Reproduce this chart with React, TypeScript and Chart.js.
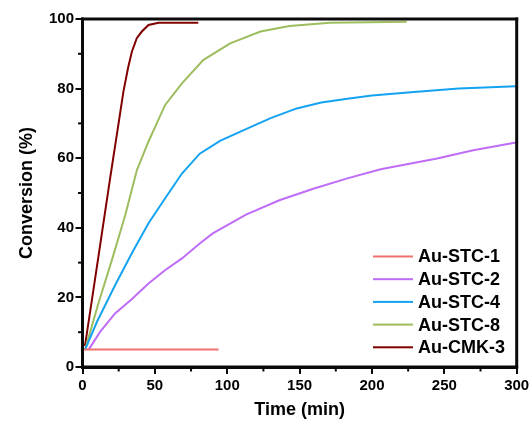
import React, { useEffect, useRef } from 'react';
import { Chart, registerables } from 'chart.js';
Chart.register(...registerables);

const seriesNames = ['Au-STC-1', 'Au-STC-2', 'Au-STC-4', 'Au-STC-8', 'Au-CMK-3'];
const seriesColors = ['#f0716d', '#bf6df7', '#14a3f0', '#9dbd5e', '#800000'];

const stc1X = [0, 94];
const stc1Y = [5, 5];

const stc2X = [4.3, 12, 22.5, 34, 45.6, 57, 68.7, 81, 90, 113, 136, 160, 183, 206, 245, 270, 299.5];
const stc2Y = [5, 10, 15.4, 19.5, 24, 27.8, 31.2, 35.5, 38.4, 43.8, 47.9, 51.3, 54.2, 56.8, 59.9, 62.3, 64.5];

const stc4X = [1.8, 10, 22.5, 34, 45.6, 57, 68.7, 81, 95, 111, 130, 148, 165, 183, 200, 229, 260, 299.5];
const stc4Y = [5, 13, 23.5, 32.6, 41.3, 48.4, 55.6, 61.3, 65, 68, 71.5, 74.3, 76, 77.1, 78, 79, 80, 80.7];

const stc8X = [1.8, 11, 20.3, 29.5, 37.6, 45.6, 57.1, 68.7, 83.4, 102, 123, 143, 171, 224];
const stc8Y = [5, 18.3, 30.7, 43.6, 56.6, 64.8, 75.3, 81.5, 88.2, 93, 96.4, 98, 98.9, 99.2];

const cmkX = [0, 0, 1.8, 11, 19.1, 23.7, 28.3, 31.5, 34.1, 37.5, 41, 45.6, 52.6, 80];
const cmkY = [0, 6.3, 6.3, 31.7, 54.3, 66.7, 79.2, 86, 90.6, 94.5, 96.4, 98.3, 98.9, 98.9];

const seriesX = [stc1X, stc2X, stc4X, stc8X, cmkX];
const seriesY = [stc1Y, stc2Y, stc4Y, stc8Y, cmkY];

const xMin = 0;
const xMax = 300;
const yMin = 0;
const yMax = 100;
const xStep = 50;
const yStep = 20;
const xMinorTicks = [25, 75, 125, 175, 225, 275];
const yMinorTicks = [10, 30, 50, 70, 90];

const FONT = "'Liberation Sans', Arial, Helvetica, sans-serif";
const INK = '#0a0a0a';

const framePlugin = {
  id: 'frameTicks',
  afterDraw(chart: any) {
    const ctx: CanvasRenderingContext2D = chart.ctx;
    const xs = chart.scales.x;
    const ys = chart.scales.y;
    const L = Number(xs.getPixelForValue(xMin));
    const R = Number(xs.getPixelForValue(xMax));
    const T = Number(ys.getPixelForValue(yMax));
    const B = Number(ys.getPixelForValue(yMin));
    ctx.save();
    ctx.fillStyle = INK;
    ctx.fillRect(L - 1.5, T - 1.5, R - L + 3, 3);
    ctx.fillRect(L - 1.5, B - 1.5, R - L + 3, 3);
    ctx.fillRect(L - 1.5, T - 1.5, 3, B - T + 3);
    ctx.fillRect(R - 1.5, T - 1.5, 3, B - T + 3);
    xMinorTicks.forEach((v) => {
      const px = Number(xs.getPixelForValue(v));
      ctx.fillRect(px - 1, B, 2, 4.5);
    });
    yMinorTicks.forEach((v) => {
      const py = Number(ys.getPixelForValue(v));
      ctx.fillRect(L - 4.5, py - 1, 4.5, 2);
    });

    const startY = 256.5;
    const step = 22.7;
    ctx.font = `bold 18px ${FONT}`;
    ctx.textAlign = 'left';
    ctx.textBaseline = 'middle';
    seriesNames.forEach((name, i) => {
      const y = startY + i * step;
      ctx.fillStyle = seriesColors[i];
      ctx.fillRect(373, y - 1, 40, 2);
      ctx.fillStyle = '#000';
      ctx.fillText(name, 418, y + 1);
    });
    ctx.restore();
  },
};

export default function App() {
  const ref = useRef<HTMLCanvasElement | null>(null);
  useEffect(() => {
    document.body.style.margin = '0';
    const canvas = ref.current;
    if (!canvas) return;
    const datasets = seriesNames.map((name, i) => ({
      label: name,
      data: seriesX[i].map((x, j) => ({ x, y: seriesY[i][j] })),
      borderColor: seriesColors[i],
      borderWidth: 2,
      pointRadius: 0,
      showLine: true,
      tension: 0,
    }));
    const tickFont = { family: FONT, weight: 'bold', size: 15 };
    const titleFont = { family: FONT, weight: 'bold', size: 18 };
    const chart = new Chart(canvas, {
      type: 'scatter',
      data: { datasets },
      options: {
        responsive: false,
        animation: false,
        layout: { padding: { top: 19, right: 12.3, left: 0, bottom: 0 } },
        plugins: { legend: { display: false }, tooltip: { enabled: false } },
        scales: {
          x: {
            type: 'linear',
            position: 'bottom',
            min: xMin,
            max: xMax,
            grid: { display: true, drawOnChartArea: false, drawTicks: true, tickLength: 7, lineWidth: 2, color: INK },
            border: { display: true, width: 3, color: INK },
            ticks: { stepSize: xStep, padding: 3, color: '#000', font: tickFont },
            title: { display: true, text: 'Time (min)', color: '#000', font: titleFont, padding: { top: 0, bottom: 2 } },
            afterFit: (s: any) => {
              s.height = 56;
              s.paddingLeft = 0;
              s.paddingRight = 0;
            },
          },
          y: {
            type: 'linear',
            position: 'left',
            min: yMin,
            max: yMax,
            grid: { display: true, drawOnChartArea: false, drawTicks: true, tickLength: 7, lineWidth: 2, color: INK },
            border: { display: true, width: 3, color: INK },
            ticks: { stepSize: yStep, padding: 1.5, color: '#000', font: tickFont },
            title: { display: true, text: 'Conversion (%)', color: '#000', font: titleFont, padding: { top: 16, bottom: 0 } },
            afterFit: (s: any) => {
              s.width = 82.5;
              s.paddingTop = 0;
              s.paddingBottom = 0;
            },
          },
        },
      } as any,
      plugins: [framePlugin],
    });
    return () => chart.destroy();
  }, []);
  return (
    <div style={{ position: 'absolute', left: 0, top: 0, width: 529, height: 423, background: '#fff' }}>
      <canvas ref={ref} width={529} height={423} />
    </div>
  );
}
